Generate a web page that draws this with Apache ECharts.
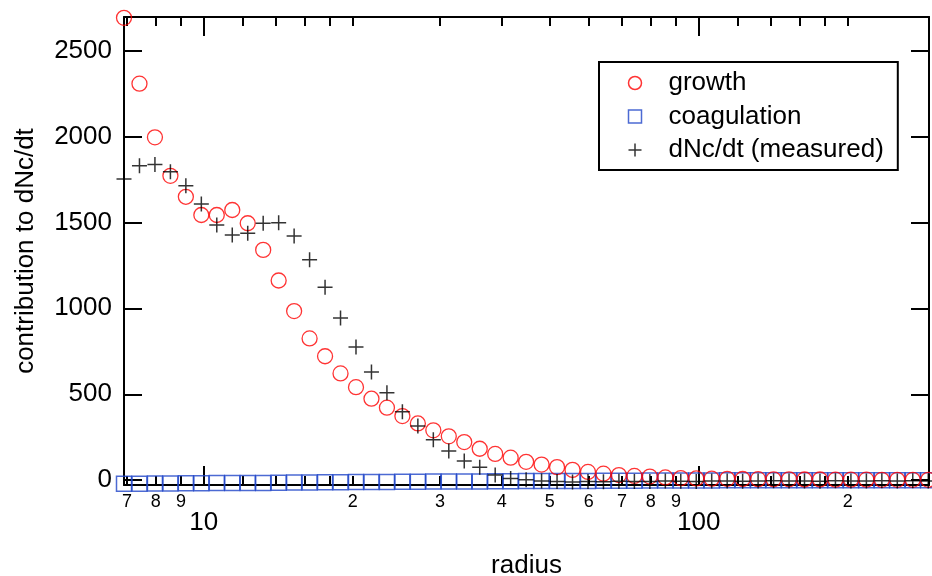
<!DOCTYPE html>
<html>
<head>
<meta charset="utf-8">
<script src="https://cdn.jsdelivr.net/npm/echarts@6/dist/echarts.min.js"></script>
<style>
  html, body { margin: 0; padding: 0; background: #fff; }
  #chart { width: 932px; height: 576px; }
</style>
</head>
<body>
<div id="chart"></div>
<script>
const radius = [6.9, 7.415, 7.968, 8.563, 9.201, 9.888, 10.625, 11.418, 12.27, 13.185,
  14.169, 15.226, 16.362, 17.583, 18.895, 20.305, 21.82, 23.448, 25.197, 27.077,
  29.097, 31.268, 33.601, 36.108, 38.802, 41.697, 44.808, 48.151, 51.743, 55.604,
  59.752, 64.21, 69.0, 74.15, 79.68, 85.63, 92.01, 98.88, 106.25, 114.18,
  122.7, 131.85, 141.69, 152.26, 163.62, 175.83, 188.95, 203.05, 218.2, 234.48,
  251.97, 270.77, 290.97];

const growth = [2690, 2307, 1995, 1771, 1649, 1543, 1543, 1572, 1495, 1340,
  1162, 984, 825, 721, 621, 541, 474, 422, 373, 330,
  290, 255, 222, 183, 153, 131, 107, 91, 76, 60,
  48, 38, 30, 25, 21, 16, 12, 10, 9, 8,
  7, 6, 5, 5, 4, 4, 3, 3, 3, 2,
  2, 2, 2];

const coagulation = [-20, -20, -19, -19, -18, -18, -17, -17, -16, -16,
  -15, -14, -13, -12, -12, -11, -10, -10, -9, -9,
  -8, -8, -7, -7, -6, -6, -5, -5, -4, -4,
  -4, -3, -3, -3, -2, -2, -2, -2, -2, -1,
  -1, -1, -1, -1, -1, -1, -1, -1, -1, -1,
  -1, -1, -1];

const measured = [1752, 1829, 1837, 1794, 1713, 1607, 1485, 1427, 1437, 1495,
  1498, 1421, 1282, 1123, 944, 775, 630, 509, 398, 315,
  236, 170, 112, 75, 30, 10, 2, -5, -8, -10,
  -7, -9, -6, -8, -7, -5, -6, -8, -5, -4,
  -6, -5, -3, -5, -4, -6, -3, -4, -5, -3,
  -4, -3, -4];

// x axis ticks (log scale)
const xMin = 6.9, xMax = 292;
const minorTicks = [7, 8, 9, 12, 14, 16, 18, 20, 30, 40, 50, 60, 70, 80, 90, 120, 140, 160, 180, 200];
const minorLabels = [7, 8, 9, 20, 30, 40, 50, 60, 70, 80, 90, 200];
const majorTicks = [10, 100];
// y axis
const yMin = -28, yMax = 2695;
const yTicks = [0, 500, 1000, 1500, 2000, 2500];

const FONT = 'Liberation Sans, Arial, Helvetica, sans-serif';
const lg = v => Math.log10(v);

const chart = echarts.init(document.getElementById('chart'));

const tickAxis = (pos, ticks, len, labels, extra) => Object.assign({
  type: 'value',
  position: pos,
  gridIndex: 0,
  min: lg(xMin),
  max: lg(xMax),
  axisLine: { show: false, onZero: false },
  axisTick: { show: true, inside: true, length: len, customValues: ticks.map(lg),
    lineStyle: { color: '#000', width: 2 } },
  axisLabel: labels ? Object.assign({ customValues: labels.map(lg), color: '#000', fontFamily: FONT },
    labels === majorTicks
      ? { fontSize: 26, margin: 25, formatter: v => String(Math.round(Math.pow(10, v))) }
      : { fontSize: 18, margin: 8,
          formatter: v => String(Math.round(Math.pow(10, v) / Math.pow(10, Math.floor(v + 1e-9)))) })
    : { show: false },
  splitLine: { show: false }
}, extra || {});

const option = {
  animation: false,
  backgroundColor: '#fff',
  grid: { left: 124, right: 3, top: 17, bottom: 91, containLabel: false, outerBoundsMode: 'none' },
  legend: {
    left: 599,
    top: 62,
    orient: 'vertical',
    padding: [8, 14, 7, 27],
    itemGap: 7.5,
    itemWidth: 13,
    itemHeight: 13,
    borderColor: '#000',
    borderWidth: 2,
    backgroundColor: '#fff',
    itemStyle: { borderWidth: 1.5 },
    textStyle: { fontSize: 26, color: '#000', fontFamily: FONT, padding: [0, 0, 0, 22] },
    data: ['growth', 'coagulation', 'dNc/dt (measured)']
  },
  xAxis: [
    { type: 'log', logBase: 10, min: xMin, max: xMax, show: false,
      axisLine: { onZero: false } },
    tickAxis('bottom', minorTicks, 9, minorLabels, {
      axisLine: { show: true, onZero: false, lineStyle: { color: '#000', width: 2 } },
      name: 'radius', nameLocation: 'middle', nameGap: 68,
      nameTextStyle: { fontSize: 26, color: '#000', fontFamily: FONT }
    }),
    tickAxis('bottom', majorTicks, 19, majorTicks),
    tickAxis('top', minorTicks, 9, null, {
      axisLine: { show: true, onZero: false, lineStyle: { color: '#000', width: 2 } }
    }),
    tickAxis('top', majorTicks, 19, null)
  ],
  yAxis: [
    {
      type: 'value', position: 'left', min: yMin, max: yMax,
      name: 'contribution to dNc/dt', nameLocation: 'middle', nameGap: 85,
      nameTextStyle: { fontSize: 26, color: '#000', fontFamily: FONT },
      axisLine: { show: true, onZero: false, lineStyle: { color: '#000', width: 2 } },
      axisTick: { show: true, inside: true, length: 18, customValues: yTicks,
        lineStyle: { color: '#000', width: 2 } },
      axisLabel: { customValues: yTicks, fontSize: 26, color: '#000', fontFamily: FONT, margin: 12,
        formatter: v => String(v) },
      splitLine: { show: false }
    },
    {
      type: 'value', position: 'right', min: yMin, max: yMax,
      axisLine: { show: true, onZero: false, lineStyle: { color: '#000', width: 2 } },
      axisTick: { show: true, inside: true, length: 18, customValues: yTicks,
        lineStyle: { color: '#000', width: 2 } },
      axisLabel: { show: false },
      splitLine: { show: false }
    }
  ],
  series: [
    {
      name: 'coagulation',
      type: 'scatter',
      xAxisIndex: 0, yAxisIndex: 0,
      symbol: 'rect',
      symbolSize: 15,
      itemStyle: { color: 'transparent', borderColor: '#1f45c8', borderWidth: 1.5 },
      data: radius.map((r, i) => [r, coagulation[i]])
    },
    {
      name: 'growth',
      type: 'scatter',
      xAxisIndex: 0, yAxisIndex: 0,
      symbol: 'circle',
      symbolSize: 15,
      itemStyle: { color: 'transparent', borderColor: '#ff0000', borderWidth: 1.3 },
      data: radius.map((r, i) => [r, growth[i]])
    },
    {
      name: 'dNc/dt (measured)',
      type: 'scatter',
      xAxisIndex: 0, yAxisIndex: 0,
      symbol: 'path://M5,0L5,10M0,5L10,5',
      symbolSize: 15,
      itemStyle: { color: 'none', borderColor: '#000', borderWidth: 1.5 },
      data: radius.map((r, i) => [r, measured[i]])
    }
  ]
};

chart.setOption(option);
</script>
</body>
</html>
